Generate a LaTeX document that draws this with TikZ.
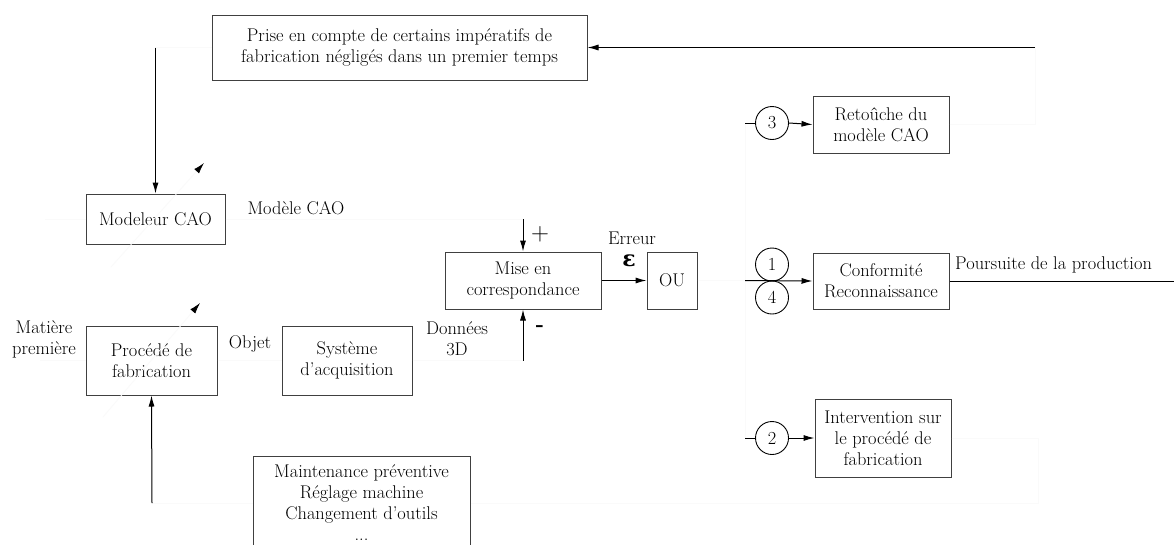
\documentclass[tikz,border=0pt]{standalone}
\usepackage{fontspec}
\newfontfamily\epsfont{DejaVu Serif}
\usetikzlibrary{arrows.meta,calc}
\tikzset{
  txt/.style={font=\fontsize{18.4}{21}\selectfont, align=center, inner sep=0pt},
  blk/.style={txt, draw=black!75, line width=1pt, fill=white},
  circ/.style={txt, draw=black, circle, line width=0.9pt, minimum size=33pt, inner sep=0pt},
  conn/.style={line width=1pt, draw=black},
  arr/.style={conn, -{Latex[length=11pt,width=6pt]}},
  faint/.style={line width=0.8pt, draw=black!2},
  faintarr/.style={faint, -{Latex[length=11pt,width=6.5pt,color=black]}},
}
\begin{document}
\begin{tikzpicture}[x=1pt,y=-1pt]
\useasboundingbox[fill=white] (0,0) rectangle (1174,544);
% blocks
\node[blk, minimum width=375pt, minimum height=65pt] (prise) at (399.5,47.5) {Prise en compte de certains impératifs de\\fabrication négligés dans un premier temps};
\node[blk, minimum width=139pt, minimum height=50pt] (modeleur) at (155.5,219) {Modeleur CAO};
\node[blk, minimum width=156pt, minimum height=57pt] (mise) at (523,280.5) {Mise en\\correspondance};
\node[blk, minimum width=50pt, minimum height=57pt] (ou) at (672,280.5) {OU};
\node[blk, minimum width=136pt, minimum height=56pt] (conf) at (881,281) {Conformité\\Reconnaissance};
\node[blk, minimum width=136pt, minimum height=57pt] (retouche) at (881,124.5) {Retoûche du\\modèle CAO};
\node[blk, minimum width=136pt, minimum height=78pt] (interv) at (883,438) {Intervention sur\\le procédé de\\fabrication};
\node[blk, minimum width=131pt, minimum height=69pt] (procede) at (151.5,360.5) {Procédé de\\fabrication};
\node[blk, minimum width=130pt, minimum height=69pt] (systeme) at (347,360.5) {Système\\d'acquisition};
% circles
\node[circ] (c3) at (772,123) {3};
\node[circ] (c1) at (772,264.5) {1};
\node[circ] (c4) at (772,297.5) {4};
\node[circ] (c2) at (772,438) {2};
% labels
\node[txt] (lmodele) at (296,208) {Modèle CAO};
\node[txt] (lmatiere) at (44,339) {Matière\\première};
\node[txt] (lobjet) at (250,344) {Objet};
\node[txt] (ldonnees) at (457,339) {Données\\3D};
\node[txt] (lerreur) at (632,238) {Erreur};
\node[txt, font=\fontsize{22}{24}\epsfont\bfseries] (leps) at (629,261) {ε};
\node[txt, font=\fontsize{26}{26}\selectfont] (lplus) at (540,234) {$+$};
\node[txt, font=\fontsize{22}{22}\selectfont\bfseries] (lminus) at (540,329) {-};
\node[txt, anchor=west] (lpours) at (955,265) {Poursuite de la production};
% coordinates
\coordinate (ftop) at (1035,47.5);
\coordinate (ftl) at (155.5,47.5);
\coordinate (fmod) at (523,219);
\coordinate (fin) at (45,219);
\coordinate (fmat) at (40,360.5);
\coordinate (fdon) at (523,360.5);
\coordinate (fou) at (745,280.5);
\coordinate (fv3) at (745,123);
\coordinate (fv2) at (745,438);
\coordinate (fiR) at (1038,438);
\coordinate (fbot) at (152,503);
\coordinate (fout) at (1174,281);
\coordinate (d1a) at (111,267);
\coordinate (d1b) at (204,163);
\coordinate (d2a) at (103,417);
\coordinate (d2b) at (200,303);
% faint connectors
\draw[faint] (retouche.east) -| (ftop);
\draw[faint] (prise.west) -- (ftl);
\draw[faint] (fin) -- (modeleur.west);
\draw[faint] (modeleur.east) -- (fmod);
\draw[faint] (fmat) -- (procede.west);
\draw[faint] (procede.east) -- (systeme.west);
\draw[faint] (systeme.east) -- (fdon);
\draw[faint] (ou.east) -- (fou);
\draw[faint] (fv3) -- (fv2);
\draw[faint] (interv.east) -- (fiR) |- (fbot);
\draw[faintarr] (d1a) -- (d1b);
\draw[faintarr] (d2a) -- (d2b);
% black connectors
\draw[arr] (ftop) -- (prise.east);
\draw[arr] (ftl) -- (modeleur.north);
\draw[arr] (fmod) -- (mise.north);
\draw[arr] (fdon) -- (mise.south);
\draw[arr] (mise.east) -- (ou.west);
\draw[arr] (fou) -- (conf.west);
\draw[conn] (fv3) -- (c3.west);
\draw[arr] (c3.east) -- (retouche.west);
\draw[conn] (fv2) -- (c2.west);
\draw[arr] (c2.east) -- (interv.west);
\draw[conn] (conf.east) -- (fout);
\draw[arr] (fbot) -- (procede.south);
% bottom block drawn last (overlaps faint line)
\node[blk, minimum width=217pt, minimum height=94pt] (maint) at (361.5,503) {Maintenance préventive\\Réglage machine\\Changement d'outils\\...};
\end{tikzpicture}
\end{document}
